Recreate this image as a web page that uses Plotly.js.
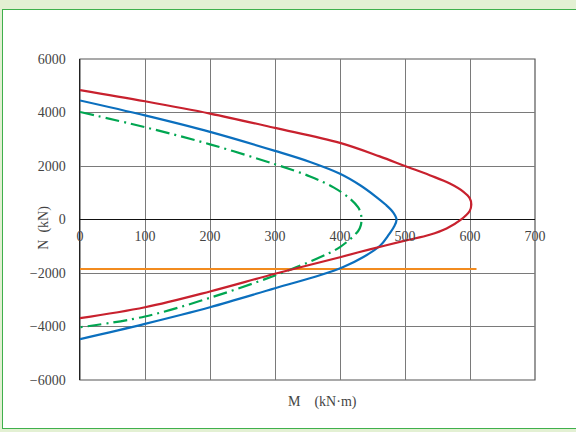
<!DOCTYPE html>
<html>
<head>
<meta charset="utf-8">
<script src="https://cdn.plot.ly/plotly-3.0.1.min.js"></script>
<style>
  html, body { margin: 0; padding: 0; width: 576px; height: 432px; overflow: hidden; background: #e3f0d3; }
  #frame { position: absolute; left: 2px; top: 9px; width: 580px; height: 418px; background: #fff; border: 1.5px solid #3fb04c; }
  #chart { position: absolute; left: 0; top: 0; width: 576px; height: 432px; }
</style>
</head>
<body>
<div id="frame"></div>
<div id="chart"></div>
<script>
// M (kN·m) and N (kN), top branch to bottom branch
const redM = [0, 100, 200, 300, 400, 461, 500, 538, 569, 590, 599.5, 602, 599.5, 585, 564, 538, 500, 446, 400, 300, 200, 100, 0];
const redN = [4840, 4420, 3960, 3425, 2865, 2360, 2000, 1655, 1345, 1035, 800, 560, 320, -25, -335, -570, -790, -1115, -1410, -2030, -2690, -3280, -3690];

const blueM = [0, 100, 200, 300, 354, 400, 431, 456, 470, 482, 487, 483, 474, 462, 436, 405, 369, 300, 200, 100, 0];
const blueN = [4450, 3890, 3275, 2565, 2150, 1710, 1280, 840, 560, 260, 0, -270, -600, -970, -1400, -1775, -2085, -2570, -3280, -3900, -4470];

const greenM = [0, 100, 200, 300, 354, 390, 415, 428, 432, 433, 432, 428, 400, 364, 300, 200, 100, 0];
const greenN = [4020, 3450, 2810, 2065, 1610, 1200, 785, 450, 230, 0, -220, -430, -1030, -1465, -2093, -2927, -3626, -4030];

const orangeM = [0, 610];
const orangeN = [-1850, -1850];

const xTicks = [0, 100, 200, 300, 400, 500, 600, 700];
const yTicks = [-6000, -4000, -2000, 0, 2000, 4000, 6000];

const serif = 'Liberation Serif, DejaVu Serif, serif';

function curve(x, y, color, dash) {
    return {
        type: 'scatter', mode: 'lines', x: x, y: y,
        line: { color: color, width: 2.2, dash: dash || 'solid', shape: 'spline', smoothing: 1.0 },
        showlegend: false, hoverinfo: 'skip'
    };
}

const traces = [
    curve(orangeM, orangeN, '#f28b1f'),
    curve(greenM, greenN, '#00a651', '14px,5px,2px,5px'),
    curve(blueM, blueN, '#0b6fbe'),
    curve(redM, redN, '#c8212e')
];

Plotly.newPlot('chart', traces, {
    width: 576,
    height: 432,
    margin: { l: 80, r: 41, t: 59, b: 52 },
    paper_bgcolor: 'rgba(0,0,0,0)',
    plot_bgcolor: 'rgba(0,0,0,0)',
    font: { family: serif, size: 14, color: '#333' },
    xaxis: {
        range: [0, 700],
        tickmode: 'array', tickvals: xTicks,
        anchor: 'free', position: 0.5,
        showgrid: true, gridcolor: '#7a7a7a', gridwidth: 1,
        zeroline: false, showline: false,
        ticks: '', ticklabelstandoff: 6,
        tickfont: { family: serif, size: 14, color: '#444' }
    },
    yaxis: {
        range: [-6000, 6000],
        tickmode: 'array', tickvals: yTicks,
        showgrid: true, gridcolor: '#7a7a7a', gridwidth: 1,
        zeroline: true, zerolinecolor: '#111', zerolinewidth: 1.5,
        showline: true, linecolor: '#222', linewidth: 1.5,
        ticks: '', ticklabelstandoff: 10,
        tickfont: { family: serif, size: 14, color: '#444' }
    },
    shapes: [
        { type: 'rect', xref: 'paper', yref: 'paper', x0: 0, x1: 1, y0: 0, y1: 1,
          line: { color: '#555', width: 1.2 }, layer: 'below' }
    ],
    annotations: [
        { text: 'M\u3000(kN·m)', xref: 'paper', yref: 'paper', x: 0.534, y: -0.068,
          showarrow: false, xanchor: 'center', yanchor: 'middle',
          font: { family: serif, size: 14, color: '#444' } },
        { text: 'N\u2002(kN)', xref: 'paper', yref: 'paper', x: -0.081, y: 0.475,
          showarrow: false, textangle: -90, xanchor: 'center', yanchor: 'middle',
          font: { family: serif, size: 14, color: '#444' } }
    ]
}, { staticPlot: true });
</script>
</body>
</html>
